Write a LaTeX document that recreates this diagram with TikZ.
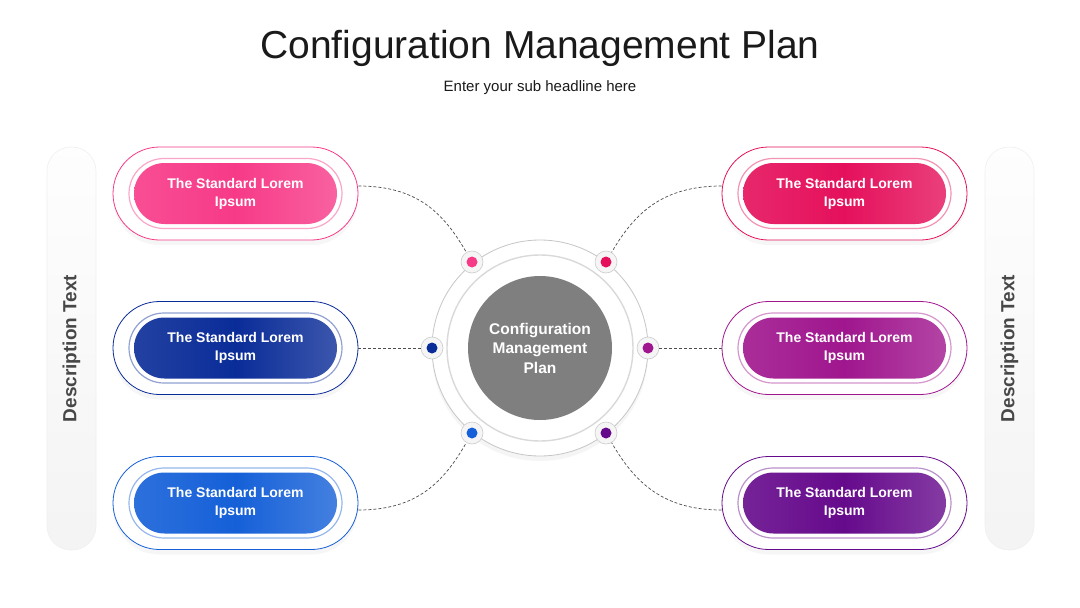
\documentclass[tikz,border=0pt]{standalone}
\usepackage{fontspec}
\setmainfont{Liberation Sans}
\usetikzlibrary{shapes.misc,shadows}
\definecolor{cTL}{HTML}{F73A88}
\definecolor{cTR}{HTML}{E5105B}
\definecolor{cML}{HTML}{0A2C98}
\definecolor{cMR}{HTML}{A0168E}
\definecolor{cBL}{HTML}{1560D8}
\definecolor{cBR}{HTML}{660A8C}
\definecolor{cCore}{HTML}{7F7F7F}
\definecolor{cDesc}{HTML}{474747}
\definecolor{cTitle}{HTML}{1A1A1A}
\tikzset{
  outerpill/.style={rounded rectangle, minimum width=245pt, minimum height=93pt, inner sep=0pt,
    fill=white, draw=#1, line width=0.8pt,
    drop shadow={opacity=0.07, shadow xshift=0pt, shadow yshift=-5pt}},
  ringpill/.style={rounded rectangle, minimum width=213pt, minimum height=70pt, inner sep=0pt,
    fill=white, draw=#1!45, line width=1.2pt},
  colpill/.style={rounded rectangle, minimum width=203pt, minimum height=61pt, inner sep=0pt,
    left color=#1!90!white, right color=#1!80!white, middle color=#1,
    text=white, font=\bfseries\fontsize{14}{18}\selectfont, align=center},
  glass/.style={circle, minimum size=22pt, inner sep=0pt, fill=gray!8, draw=gray!40, line width=0.6pt},
  conn/.style={draw=black!70, line width=0.7pt, dash pattern=on 3pt off 2pt},
  descbar/.style={rectangle, rounded corners=24pt, minimum width=49pt, minimum height=403pt, inner sep=0pt,
    top color=gray!1, bottom color=gray!9, draw=gray!12, line width=0.6pt},
  desctext/.style={rotate=90, text=cDesc, font=\bfseries\fontsize{19}{22}\selectfont}
}
\begin{document}
\begin{tikzpicture}[x=1pt,y=-1pt]
\useasboundingbox (0,0) rectangle (1080,608);
\fill[white] (0,0) rectangle (1080,608);

% titles
\node[font=\fontsize{39}{44}\selectfont, text=cTitle] (title) at (540,48) {Configuration Management Plan};
\node[font=\fontsize{15}{18}\selectfont, text=cTitle] (sub) at (540,88) {Enter your sub headline here};

% description bars
\node[descbar] (barL) at (71.5,348.5) {};
\node[desctext] (txtL) at (barL) {Description Text};
\node[descbar] (barR) at (1009.5,348.5) {};
\node[desctext] (txtR) at (barR) {Description Text};

% center
\node[circle, minimum size=216pt, inner sep=0pt, fill=white, draw=gray!45, line width=0.8pt,
  drop shadow={opacity=0.08, shadow xshift=0pt, shadow yshift=-5pt}] (ring) at (540,348) {};
\node[circle, minimum size=186pt, inner sep=0pt, draw=gray!30, line width=1.4pt] (ring2) at (ring.center) {};
\node[circle, minimum size=144pt, inner sep=0pt, fill=cCore, text=white, align=center,
  font=\bfseries\fontsize{15.5}{19.5}\selectfont] (core) at (ring.center) {Configuration\\Management\\Plan};

% left pills
\foreach \n/\c/\y in {TL/cTL/193.5, ML/cML/348, BL/cBL/503}{
  \node[outerpill=\c] (o\n) at (235.5,\y) {};
  \node[ringpill=\c] (r\n) at (o\n.center) {};
  \node[colpill=\c] (p\n) at (o\n.center) {The Standard Lorem\\Ipsum};
}
% right pills
\foreach \n/\c/\y in {TR/cTR/193.5, MR/cMR/348, BR/cBR/503}{
  \node[outerpill=\c] (o\n) at (844.5,\y) {};
  \node[ringpill=\c] (r\n) at (o\n.center) {};
  \node[colpill=\c] (p\n) at (o\n.center) {The Standard Lorem\\Ipsum};
}

% glass dots
\node[glass] (dTL) at (472,262) {};
\node[glass] (dTR) at (606,262) {};
\node[glass] (dML) at (432,348) {};
\node[glass] (dMR) at (648,348) {};
\node[glass] (dBL) at (472,433) {};
\node[glass] (dBR) at (606,433) {};
\foreach \n/\c in {TL/cTL, TR/cTR, ML/cML, MR/cMR, BL/cBL, BR/cBR}{
  \fill[\c] (d\n.center) circle (5.5pt);
}

% connectors
\draw[conn] (oTL.east |- 0,186) .. controls +(60,0) and +(-28,-48) .. (dTL);
\draw[conn] (oML.east) -- (dML);
\draw[conn] (oBL.east |- 0,510) .. controls +(60,0) and +(-28,48) .. (dBL);
\draw[conn] (oTR.west |- 0,186) .. controls +(-60,0) and +(28,-48) .. (dTR);
\draw[conn] (oMR.west) -- (dMR);
\draw[conn] (oBR.west |- 0,510) .. controls +(-60,0) and +(28,48) .. (dBR);
\end{tikzpicture}
\end{document}
